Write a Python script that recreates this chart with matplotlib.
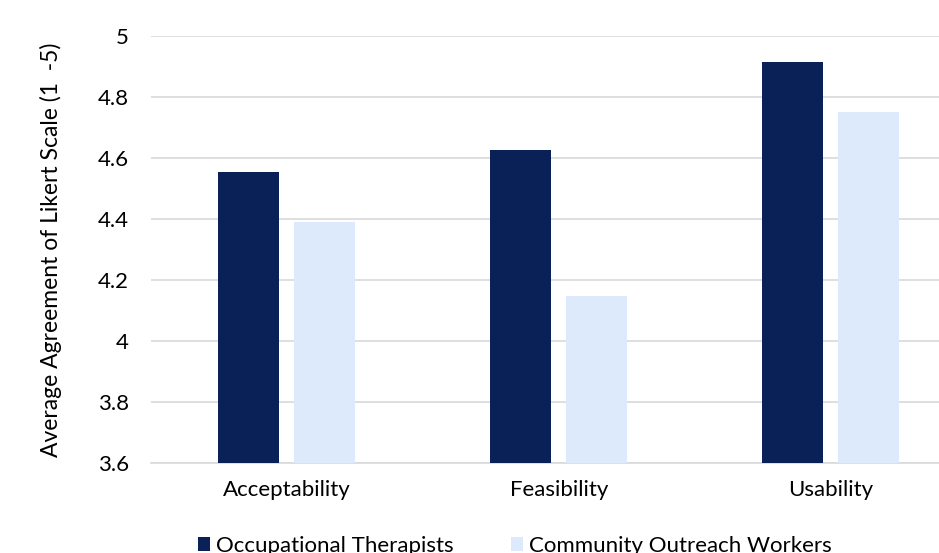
import matplotlib.pyplot as plt
import numpy as np

# data
categories = ["Acceptability", "Feasibility", "Usability"]
ot_values = [4.555, 4.627, 4.916]
cow_values = [4.39, 4.148, 4.752]
series_names = ["Occupational Therapists", "Community Outreach Workers"]
yticks = [3.6, 3.8, 4.0, 4.2, 4.4, 4.6, 4.8, 5.0]
ytick_labels = ["3.6", "3.8", "4", "4.2", "4.4", "4.6", "4.8", "5"]

plt.rcParams['font.family'] = ['Lato', 'DejaVu Sans']

fig = plt.figure(figsize=(9.39, 5.53), dpi=100)
ax = fig.add_axes([151 / 939, 90 / 553, 816 / 939, 427 / 553])

x = np.arange(len(categories))
w = 0.225
ax.bar(x - 0.143, ot_values, w, color="#0a2157", label=series_names[0], zorder=3)
ax.bar(x + 0.138, cow_values, w, color="#dceafb", label=series_names[1], zorder=3)

ax.set_xlim(-0.5, 2.5)
ax.set_ylim(3.6, 5.0)
ax.set_yticks(yticks)
ax.set_yticklabels(ytick_labels)
ax.set_xticks(x)
ax.set_xticklabels(categories)
ax.tick_params(axis='both', length=0, labelsize=16, colors="#000000")
ax.tick_params(axis='y', pad=16)
ax.tick_params(axis='x', pad=12)

ax.grid(axis='y', color="#d9d9d9", linewidth=1.2, zorder=0)
for s in ["top", "right", "left"]:
    ax.spines[s].set_visible(False)
ax.spines["bottom"].set_color("#d9d9d9")
ax.spines["bottom"].set_linewidth(1.2)

ax.set_ylabel("Average Agreement of Likert Scale (1  -5)", fontsize=16.5, labelpad=26)

fig.legend(loc="center left", bbox_to_anchor=(178 / 939, 1 - 546 / 553), ncol=2,
           frameon=False, fontsize=16, handlelength=0.55, handleheight=0.55,
           handletextpad=0.25, columnspacing=2.6)

plt.savefig("out.png")
